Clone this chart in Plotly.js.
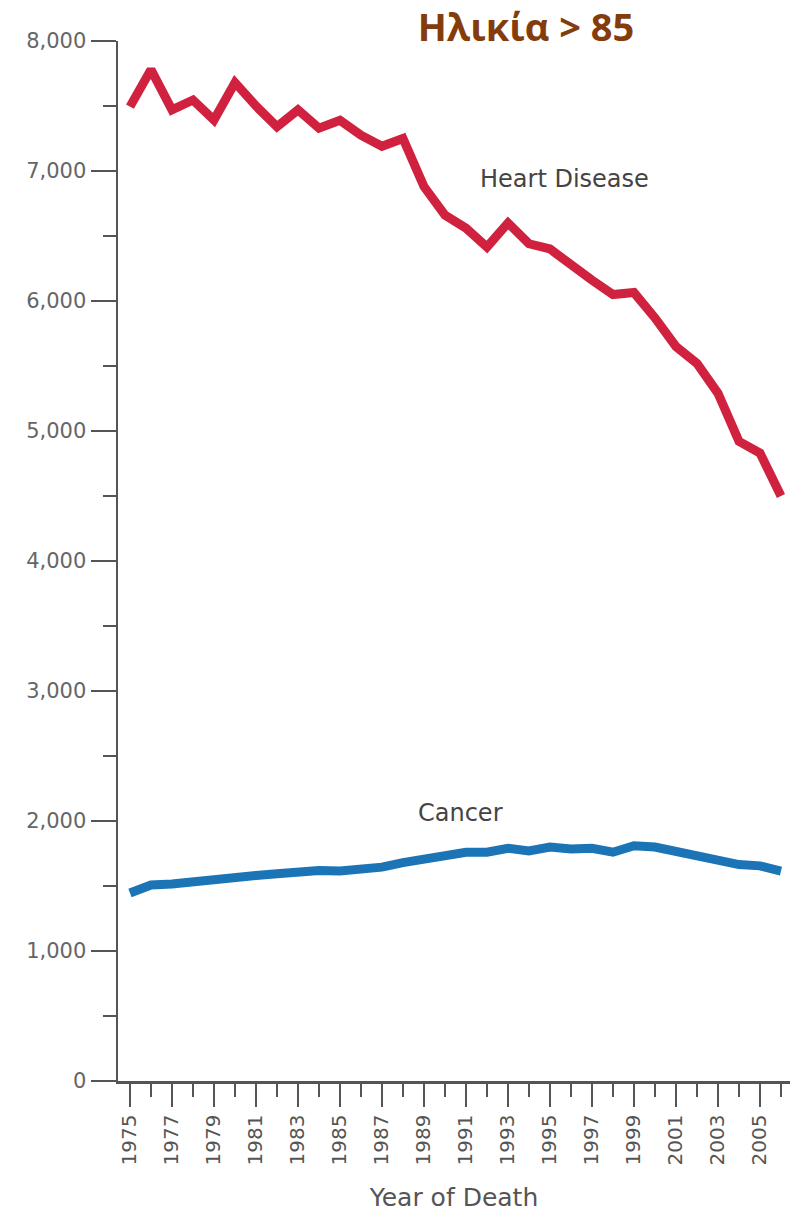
<!DOCTYPE html>
<html>
<head>
<meta charset="utf-8">
<script src="https://cdn.plot.ly/plotly-3.0.1.min.js"></script>
<style>html,body{margin:0;padding:0;background:#fff;}#chart{width:790px;height:1212px;}</style>
</head>
<body>
<div id="chart"></div>
<script>
const years = [1975,1976,1977,1978,1979,1980,1981,1982,1983,1984,1985,1986,1987,1988,1989,1990,1991,1992,1993,1994,1995,1996,1997,1998,1999,2000,2001,2002,2003,2004,2005,2006];
const heartDisease = [7495,7780,7470,7546,7392,7680,7500,7340,7470,7330,7390,7275,7190,7250,6880,6660,6560,6415,6600,6440,6400,6270,6160,6050,6065,5870,5650,5520,5290,4920,4830,4500];
const cancer = [1446,1508,1515,1535,1540,1570,1580,1595,1610,1620,1615,1630,1645,1680,1710,1740,1760,1760,1790,1770,1800,1785,1790,1760,1810,1800,1765,1745,1700,1665,1655,1615];
const xTickYears = [1975,1977,1979,1981,1983,1985,1987,1989,1991,1993,1995,1997,1999,2001,2003,2005];
const yTicks = [0,1000,2000,3000,4000,5000,6000,7000,8000];
const titleText = "Ηλικία > 85";
const xTitle = "Year of Death";
const labels = [{text:"Heart Disease", x:1995.67, y:6935},{text:"Cancer", x:1990.76, y:2062}];

const axisColor = "#555";
const traces = [
  {x: years, y: heartDisease, type: "scatter", mode: "lines", line: {color: "#d0223f", width: 9}, hoverinfo: "skip"},
  {x: years, y: cancer, type: "scatter", mode: "lines", line: {color: "#1b74b6", width: 9}, hoverinfo: "skip"}
];
const layout = {
  width: 790, height: 1212,
  margin: {l: 118, r: 0, t: 41, b: 131},
  paper_bgcolor: "#fff", plot_bgcolor: "#fff",
  showlegend: false,
  title: {text: titleText, font: {family: "Open Sans", size: 38, color: "#843c0c", weight: 700},
          xref: "container", yref: "container", x: 526/790, xanchor: "center", y: 1 - 28/1212, yanchor: "middle"},
  xaxis: {
    range: [1974.43, 2006.43], showgrid: false, zeroline: false,
    showline: true, linecolor: axisColor, linewidth: 2.5,
    tickmode: "array", tickvals: xTickYears, ticktext: xTickYears.map(String),
    ticks: "outside", ticklen: 23, tickwidth: 2.5, tickcolor: axisColor,
    tickangle: -90, tickfont: {family: "DejaVu Sans", size: 20, color: "#555"},
    minor: {tick0: 1975, dtick: 1, ticks: "outside", ticklen: 13, tickwidth: 2.5, tickcolor: axisColor, showgrid: false},
    title: {text: xTitle, font: {family: "DejaVu Sans", size: 25, color: "#555"}, standoff: 24}
  },
  yaxis: {
    range: [0, 8000], showgrid: false, zeroline: false,
    showline: true, linecolor: axisColor, linewidth: 2.5,
    tickmode: "array", tickvals: yTicks, ticktext: yTicks.map(v => v.toLocaleString("en-US")),
    ticks: "outside", ticklen: 25, tickwidth: 2.5, tickcolor: axisColor,
    tickfont: {family: "DejaVu Sans", size: 21, color: "#666"},
    minor: {tick0: 0, dtick: 500, ticks: "outside", ticklen: 13, tickwidth: 2.5, tickcolor: axisColor, showgrid: false}
  },
  annotations: labels.map(l => ({text: l.text, x: l.x, y: l.y, xref: "x", yref: "y", showarrow: false,
    xanchor: "center", yanchor: "middle", font: {family: "DejaVu Sans", size: 24, color: "#444"}}))
};
Plotly.newPlot("chart", traces, layout, {displayModeBar: false, staticPlot: true});
</script>
</body>
</html>
